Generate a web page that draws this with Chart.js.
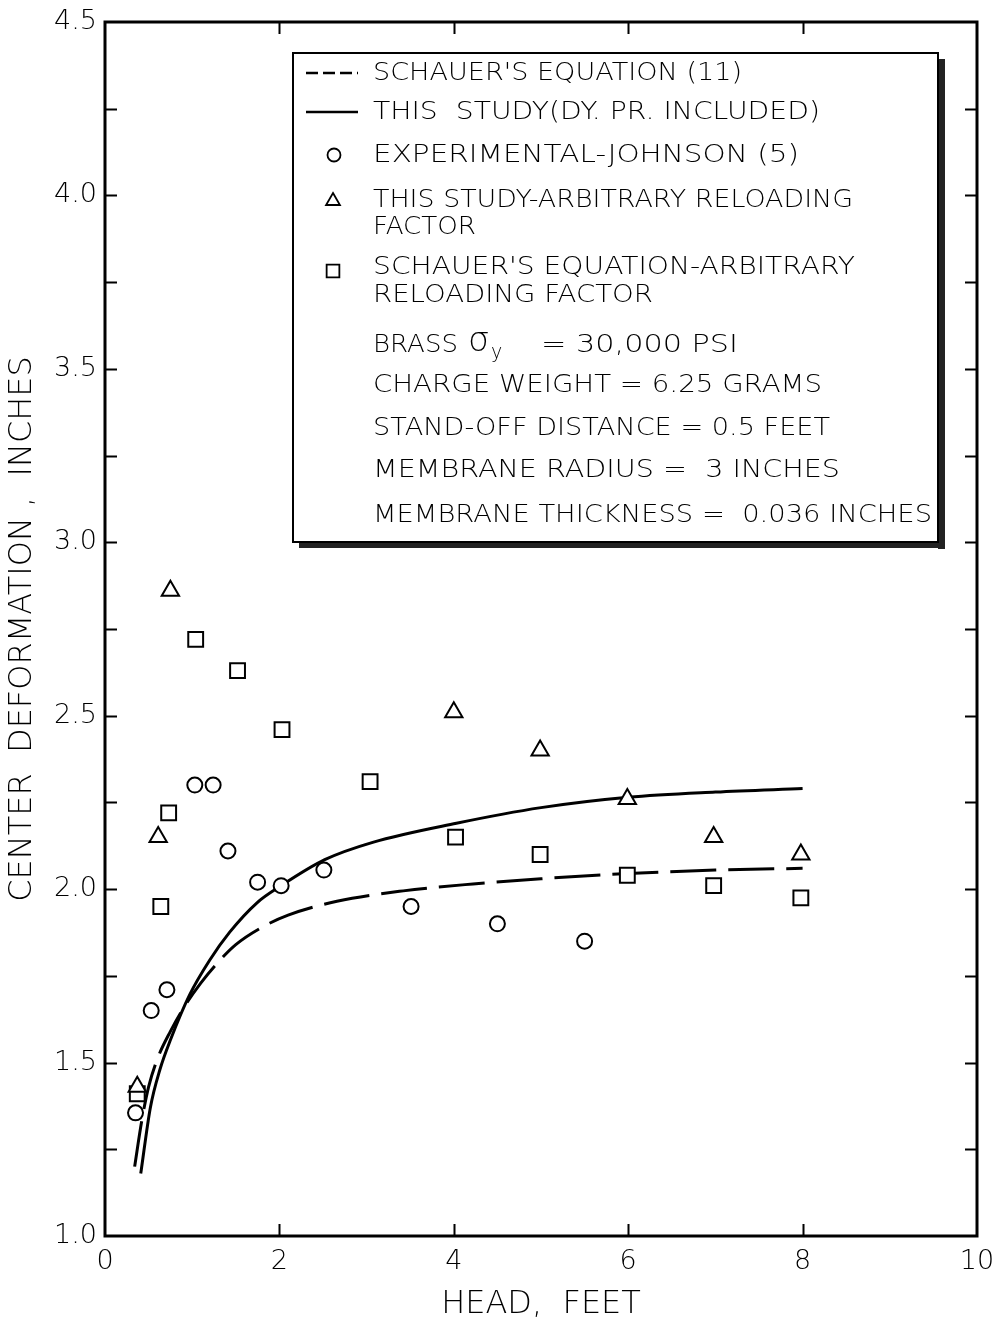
<!DOCTYPE html>
<html>
<head>
<meta charset="utf-8">
<script src="https://cdn.jsdelivr.net/npm/chart.js@4.4.1/dist/chart.umd.min.js"></script>
<style>
  html, body { margin: 0; padding: 0; background: #fff; }
  #wrap { width: 994px; height: 1325px; }
</style>
</head>
<body>
<div id="wrap"><canvas id="chart" width="994" height="1325"></canvas></div>
<script>
// Center deformation (inches) against head (feet)

// Schauer's equation (11), dashed curve
const schauerHead = [0.34, 0.42, 0.5, 0.6, 0.75, 0.92, 1.1, 1.3, 1.5, 1.8, 2.1, 2.66, 3.42, 4.22, 5.0, 6.0, 7.0, 8.0];
const schauerDefl = [1.20, 1.33, 1.43, 1.51, 1.59, 1.665, 1.73, 1.79, 1.84, 1.89, 1.925, 1.965, 1.995, 2.015, 2.03, 2.045, 2.055, 2.06];

// This study (dynamic pressure included), solid curve
const studyHead = [0.41, 0.52, 0.63, 0.75, 0.97, 1.2, 1.43, 1.74, 2.02, 2.52, 3.07, 4.03, 5.0, 6.0, 7.0, 8.0];
const studyDefl = [1.18, 1.37, 1.48, 1.565, 1.695, 1.795, 1.876, 1.96, 2.01, 2.085, 2.135, 2.19, 2.235, 2.265, 2.28, 2.29];

// Experimental - Johnson (5)
const johnsonHead = [0.35, 0.53, 0.71, 1.03, 1.24, 1.41, 1.75, 2.02, 2.51, 3.51, 4.50, 5.50];
const johnsonDefl = [1.355, 1.65, 1.71, 2.30, 2.30, 2.11, 2.02, 2.01, 2.055, 1.95, 1.90, 1.85];

// This study - arbitrary reloading factor
const reloadHead = [0.37, 0.61, 0.75, 4.0, 4.99, 5.99, 6.98, 7.98];
const reloadDefl = [1.43, 2.15, 2.86, 2.51, 2.40, 2.26, 2.15, 2.10];

// Schauer's equation - arbitrary reloading factor
const schauerReloadHead = [0.37, 0.64, 0.73, 1.04, 1.52, 2.03, 3.04, 4.02, 4.99, 5.99, 6.98, 7.98];
const schauerReloadDefl = [1.41, 1.95, 2.22, 2.72, 2.63, 2.46, 2.31, 2.15, 2.10, 2.04, 2.01, 1.975];

const xTickLabels = [0, 2, 4, 6, 8, 10];
const yTickLabels = [1.0, 1.5, 2.0, 2.5, 3.0, 3.5, 4.0, 4.5];

const FAMILY = "'DejaVu Sans', 'Liberation Sans', sans-serif";
const WEIGHT = '200';

function pairs(xs, ys) {
  return xs.map((x, i) => ({ x: x, y: ys[i] }));
}

// draw a string squeezed or stretched to a given width
function fitText(ctx, str, x, y, w) {
  const m = ctx.measureText(str).width;
  ctx.save();
  ctx.translate(x, y);
  ctx.scale(w / m, 1);
  ctx.fillText(str, 0, 0);
  ctx.restore();
}

const whiteBg = {
  id: 'whiteBg',
  beforeDraw(chart) {
    const ctx = chart.ctx;
    ctx.save();
    ctx.fillStyle = '#fff';
    ctx.fillRect(0, 0, chart.width, chart.height);
    ctx.restore();
  }
};

// heavy frame with ticks pointing inward on all four sides
const frame = {
  id: 'frame',
  afterDatasetsDraw(chart) {
    const ctx = chart.ctx;
    const a = chart.chartArea;
    const xs = chart.scales.x, ys = chart.scales.y;
    ctx.save();
    ctx.strokeStyle = '#000';
    ctx.lineWidth = 2;
    ys.ticks.forEach(t => {
      if (t.value <= ys.min || t.value >= ys.max) return;
      const py = Math.round(ys.getPixelForValue(t.value)) + 0.5;
      ctx.beginPath();
      ctx.moveTo(a.left, py); ctx.lineTo(a.left + 12, py);
      ctx.moveTo(a.right, py); ctx.lineTo(a.right - 12, py);
      ctx.stroke();
    });
    xs.ticks.forEach(t => {
      if (t.value <= xs.min || t.value >= xs.max) return;
      const px = Math.round(xs.getPixelForValue(t.value)) + 0.5;
      ctx.beginPath();
      ctx.moveTo(px, a.bottom); ctx.lineTo(px, a.bottom - 12);
      ctx.moveTo(px, a.top); ctx.lineTo(px, a.top + 12);
      ctx.stroke();
    });
    ctx.lineWidth = 3;
    ctx.strokeRect(a.left, a.top, a.right - a.left, a.bottom - a.top);
    ctx.restore();
  }
};

// key and test conditions box
const keyBox = {
  id: 'keyBox',
  afterDraw(chart) {
    const ctx = chart.ctx;
    const L = 293, T = 53, R = 938, B = 542;
    ctx.save();
    ctx.fillStyle = '#222';
    ctx.fillRect(R, T + 6, 7, B - T + 1);
    ctx.fillRect(L + 6, B, R - L + 1, 6);
    ctx.fillStyle = '#fff';
    ctx.fillRect(L, T, R - L, B - T);
    ctx.strokeStyle = '#000';
    ctx.lineWidth = 2;
    ctx.strokeRect(L, T, R - L, B - T);

    // line samples
    ctx.lineWidth = 2.5;
    ctx.setLineDash([12, 5]);
    ctx.beginPath(); ctx.moveTo(306, 73); ctx.lineTo(358, 73); ctx.stroke();
    ctx.setLineDash([]);
    ctx.beginPath(); ctx.moveTo(306, 112); ctx.lineTo(358, 112); ctx.stroke();

    // marker samples
    ctx.fillStyle = '#fff';
    ctx.lineWidth = 1.8;
    Chart.helpers.drawPoint(ctx, { pointStyle: 'circle', radius: 6.5, borderWidth: 1.8, rotation: 0 }, 334, 155);
    Chart.helpers.drawPoint(ctx, { pointStyle: 'triangle', radius: 8, borderWidth: 1.8, rotation: 0 }, 333, 201);
    Chart.helpers.drawPoint(ctx, { pointStyle: 'rect', radius: 9, borderWidth: 1.8, rotation: 0 }, 333, 271);

    ctx.fillStyle = '#000';
    ctx.textBaseline = 'middle';
    ctx.textAlign = 'left';
    ctx.font = WEIGHT + ' 25px ' + FAMILY;
    const rows = [
      ["SCHAUER'S EQUATION (11)", 73, 369],
      ['THIS  STUDY(DY. PR. INCLUDED)', 112, 447],
      ['EXPERIMENTAL-JOHNSON (5)', 155, 426],
      ['THIS STUDY-ARBITRARY RELOADING', 200, 480],
      ['FACTOR', 227, 103],
      ["SCHAUER'S EQUATION-ARBITRARY", 267, 482],
      ['RELOADING FACTOR', 295, 280],
      ['CHARGE WEIGHT = 6.25 GRAMS', 385, 449],
      ['STAND-OFF DISTANCE = 0.5 FEET', 428, 457],
      ['MEMBRANE RADIUS =  3 INCHES', 470, 467],
      ['MEMBRANE THICKNESS =  0.036 INCHES', 515, 559]
    ];
    rows.forEach(r => fitText(ctx, r[0], 373, r[1], r[2]));

    // yield stress line with sigma and subscript
    fitText(ctx, 'BRASS', 373, 345, 85);
    ctx.font = WEIGHT + ' 34px ' + FAMILY;
    ctx.fillText('\u03C3', 468, 342);
    ctx.font = WEIGHT + ' 19px ' + FAMILY;
    ctx.fillText('y', 491, 353);
    ctx.font = WEIGHT + ' 25px ' + FAMILY;
    fitText(ctx, '= 30,000 PSI', 541, 345, 197);
    ctx.restore();
  }
};

const markerStyle = {
  showLine: false,
  pointBackgroundColor: '#fff',
  pointBorderColor: '#000',
  pointBorderWidth: 2,
  pointHoverRadius: 0
};

new Chart(document.getElementById('chart').getContext('2d'), {
  type: 'scatter',
  data: {
    datasets: [
      Object.assign({ label: 'Experimental - Johnson (5)', data: pairs(johnsonHead, johnsonDefl),
        pointStyle: 'circle', pointRadius: 7.5 }, markerStyle),
      Object.assign({ label: 'This study - arbitrary reloading factor', data: pairs(reloadHead, reloadDefl),
        pointStyle: 'triangle', pointRadius: 10 }, markerStyle),
      Object.assign({ label: "Schauer's equation - arbitrary reloading factor", data: pairs(schauerReloadHead, schauerReloadDefl),
        pointStyle: 'rect', pointRadius: 10.5 }, markerStyle),
      {
        label: 'This study (dy. pr. included)',
        data: pairs(studyHead, studyDefl),
        showLine: true,
        borderColor: '#000',
        borderWidth: 3,
        pointRadius: 0,
        cubicInterpolationMode: 'monotone'
      },
      {
        label: "Schauer's equation (11)",
        data: pairs(schauerHead, schauerDefl),
        showLine: true,
        borderColor: '#000',
        borderWidth: 3,
        borderDash: [46, 12],
        pointRadius: 0,
        cubicInterpolationMode: 'monotone'
      }
    ]
  },
  options: {
    responsive: false,
    animation: false,
    devicePixelRatio: 1,
    layout: { padding: { top: 22, right: 17, left: 0, bottom: 0 } },
    plugins: {
      legend: { display: false },
      tooltip: { enabled: false }
    },
    scales: {
      x: {
        type: 'linear',
        min: 0,
        max: 10,
        grid: { display: false, drawTicks: false },
        border: { display: false },
        ticks: {
          stepSize: 2,
          padding: 10,
          color: '#000',
          font: { family: FAMILY, size: 27, weight: WEIGHT },
          callback: v => xTickLabels.includes(v) ? String(v) : ''
        },
        title: {
          display: true,
          text: 'HEAD,  FEET',
          color: '#000',
          padding: { top: 0, bottom: 1 },
          font: { family: FAMILY, size: 32, weight: WEIGHT }
        },
        afterFit: s => { s.height = 89; s.paddingLeft = 0; s.paddingRight = 0; }
      },
      y: {
        type: 'linear',
        min: 1,
        max: 4.5,
        grid: { display: false, drawTicks: false },
        border: { display: false },
        ticks: {
          stepSize: 0.25,
          autoSkip: false,
          padding: 8,
          color: '#000',
          font: { family: FAMILY, size: 27, weight: WEIGHT },
          callback: v => yTickLabels.some(t => Math.abs(t - v) < 1e-6) ? v.toFixed(1) : ''
        },
        title: {
          display: true,
          text: 'CENTER  DEFORMATION ,  INCHES',
          color: '#000',
          padding: { top: 3, bottom: 0 },
          font: { family: FAMILY, size: 32, weight: WEIGHT }
        },
        afterFit: s => { s.width = 105; s.paddingTop = 0; s.paddingBottom = 0; }
      }
    }
  },
  plugins: [whiteBg, frame, keyBox]
});
</script>
</body>
</html>
